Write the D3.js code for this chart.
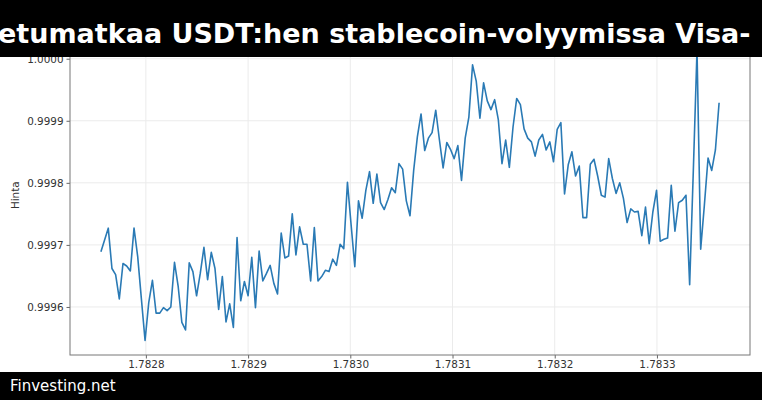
<!DOCTYPE html>
<html>
<head>
<meta charset="utf-8">
<script src="https://cdn.jsdelivr.net/npm/d3@7"></script>
<style>
  html, body { margin: 0; padding: 0; background: #fff; }
  svg { display: block; font-family: "DejaVu Sans", sans-serif; }
</style>
</head>
<body>
<div id="container"></div>
<script>
const title = "etumatkaa USDT:hen stablecoin-volyymissa Visa-";
const footer = "Finvesting.net";
const yLabel = "Hinta";

// hourly samples, first timestamp (seconds)
const startTime = 1782756000;
const price = [
  0.999689, 0.999708, 0.999727, 0.999662, 0.999652, 0.999613, 0.999670, 0.999666, 0.999658, 0.999727,
  0.999681, 0.999613, 0.999546, 0.999607, 0.999643, 0.999590, 0.999590, 0.999599, 0.999594, 0.999600,
  0.999672, 0.999633, 0.999575, 0.999563, 0.999671, 0.999657, 0.999618, 0.999654, 0.999696, 0.999644,
  0.999688, 0.999662, 0.999596, 0.999649, 0.999576, 0.999605, 0.999567, 0.999712, 0.999610, 0.999641,
  0.999618, 0.999680, 0.999599, 0.999690, 0.999642, 0.999654, 0.999667, 0.999638, 0.999621, 0.999719,
  0.999679, 0.999682, 0.999750, 0.999684, 0.999729, 0.999701, 0.999701, 0.999642, 0.999728, 0.999642,
  0.999649, 0.999659, 0.999657, 0.999677, 0.999667, 0.999701, 0.999694, 0.999801, 0.999732, 0.999665,
  0.999771, 0.999743, 0.999788, 0.999818, 0.999767, 0.999814, 0.999768, 0.999757, 0.999773, 0.999792,
  0.999784, 0.999831, 0.999822, 0.999771, 0.999747, 0.999820, 0.999874, 0.999911, 0.999852, 0.999872,
  0.999881, 0.999917, 0.999869, 0.999824, 0.999865, 0.999854, 0.999839, 0.999860, 0.999804, 0.999872,
  0.999906, 0.999990, 0.999964, 0.999904, 0.999961, 0.999932, 0.999918, 0.999934, 0.999902, 0.999831,
  0.999869, 0.999825, 0.999890, 0.999936, 0.999926, 0.999887, 0.999872, 0.999866, 0.999843, 0.999869,
  0.999878, 0.999853, 0.999866, 0.999834, 0.999886, 0.999897, 0.999782, 0.999829, 0.999850, 0.999811,
  0.999827, 0.999744, 0.999744, 0.999830, 0.999838, 0.999811, 0.999780, 0.999777, 0.999839, 0.999807,
  0.999783, 0.999800, 0.999775, 0.999736, 0.999758, 0.999753, 0.999754, 0.999715, 0.999761, 0.999702,
  0.999753, 0.999788, 0.999706, 0.999709, 0.999711, 0.999796, 0.999722, 0.999768, 0.999772, 0.999780,
  0.999636, 0.999820, 1.000014, 0.999693, 0.999764, 0.999840, 0.999820, 0.999853, 0.999929
];
const xTicks = [1.7828, 1.7829, 1.7830, 1.7831, 1.7832, 1.7833];
const yTicks = [0.9996, 0.9997, 0.9998, 0.9999, 1.0000];

const width = 762, height = 400;
const plot = { left: 70, right: 750, top: 35.5, bottom: 355 };

const data = price.map((p, i) => ({ t: (startTime + i * 3600) / 1e9, p }));

function padded(extent) {
  const pad = (extent[1] - extent[0]) * 0.05;
  return [extent[0] - pad, extent[1] + pad];
}

const x = d3.scaleLinear()
  .domain(padded(d3.extent(data, d => d.t)))
  .range([plot.left, plot.right]);

const y = d3.scaleLinear()
  .domain(padded(d3.extent(data, d => d.p)))
  .range([plot.bottom, plot.top]);

const svg = d3.select("#container").append("svg")
  .attr("width", width)
  .attr("height", height);

svg.append("rect").attr("width", width).attr("height", height).attr("fill", "#fff");

// grid
svg.append("g").selectAll("line")
  .data(xTicks).enter().append("line")
  .attr("x1", d => x(d)).attr("x2", d => x(d))
  .attr("y1", plot.top).attr("y2", plot.bottom)
  .attr("stroke", "#ebebeb").attr("stroke-width", 1);

svg.append("g").selectAll("line")
  .data(yTicks).enter().append("line")
  .attr("x1", plot.left).attr("x2", plot.right)
  .attr("y1", d => y(d)).attr("y2", d => y(d))
  .attr("stroke", "#ebebeb").attr("stroke-width", 1);

// price line
const line = d3.line().x(d => x(d.t)).y(d => y(d.p));

svg.append("path")
  .datum(data)
  .attr("d", line)
  .attr("fill", "none")
  .attr("stroke", "#2a7ab5")
  .attr("stroke-width", 1.6)
  .attr("stroke-linejoin", "round");

// axes
const xAxis = svg.append("g")
  .attr("transform", "translate(0," + plot.bottom + ")")
  .call(d3.axisBottom(x).tickValues(xTicks).tickFormat(d3.format(".4f")).tickSizeOuter(0).tickSize(3.5).tickPadding(2));

const yAxis = svg.append("g")
  .attr("transform", "translate(" + plot.left + ",0)")
  .call(d3.axisLeft(y).tickValues(yTicks).tickFormat(d3.format(".4f")).tickSizeOuter(0).tickSize(3.5).tickPadding(3));

[xAxis, yAxis].forEach(g => {
  g.select(".domain").remove();
  g.selectAll(".tick line").attr("stroke", "#666");
  g.selectAll(".tick text").attr("fill", "#333").style("font-size", "10.4px").style("font-family", "DejaVu Sans");
});

// frame
svg.append("rect")
  .attr("x", plot.left).attr("y", plot.top)
  .attr("width", plot.right - plot.left).attr("height", plot.bottom - plot.top)
  .attr("fill", "none").attr("stroke", "#777").attr("stroke-width", 1);

svg.append("text")
  .attr("transform", "translate(19," + ((plot.top + plot.bottom) / 2) + ") rotate(-90)")
  .attr("text-anchor", "middle")
  .attr("fill", "#333")
  .style("font-size", "10.4px")
  .text(yLabel);

// banners
svg.append("rect").attr("x", 0).attr("y", 0).attr("width", width).attr("height", 57).attr("fill", "#000");
svg.append("text")
  .attr("x", -2).attr("y", 43)
  .attr("fill", "#fff")
  .style("font-size", "27px")
  .style("font-weight", "bold")
  .text(title);

svg.append("rect").attr("x", 0).attr("y", 372).attr("width", width).attr("height", 28).attr("fill", "#000");
svg.append("text")
  .attr("x", 10).attr("y", 391)
  .attr("fill", "#fff")
  .style("font-size", "15px")
  .text(footer);
</script>
</body>
</html>
